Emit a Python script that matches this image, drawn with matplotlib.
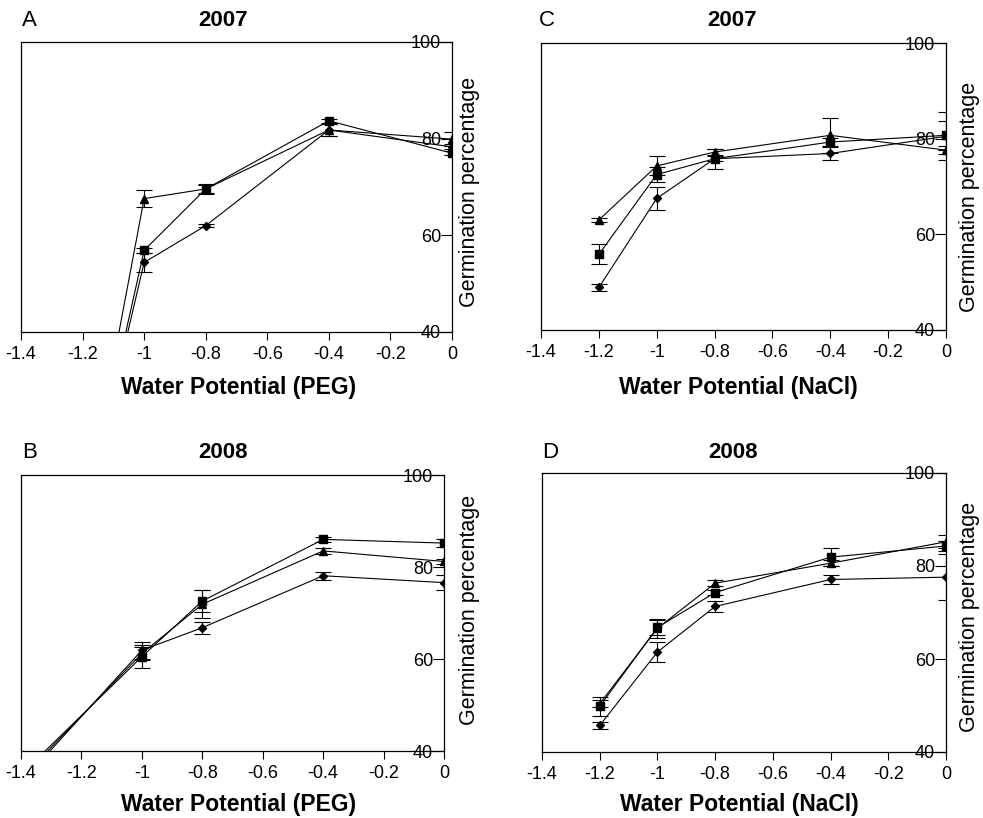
import matplotlib
matplotlib.use('Agg')
import matplotlib.pyplot as plt

plt.rcParams['font.family'] = ['Liberation Sans', 'DejaVu Sans']

# water potential levels (MPa)
wp_peg_2007 = [-1.2, -1.0, -0.8, -0.4, 0.0]
wp_peg_2008 = [-1.4, -1.0, -0.8, -0.4, 0.0]
wp_nacl = [-1.2, -1.0, -0.8, -0.4, 0.0]

# A: PEG 2007
a_tri = [0.0, 67.6, 69.6, 81.8, 79.9]
a_tri_err = [0.0, 1.7, 1.0, 1.2, 1.5]
a_sq = [0.0, 56.9, 69.6, 83.7, 77.0]
a_sq_err = [0.0, 0.5, 0.8, 0.4, 0.4]
a_dia = [0.0, 54.4, 62.0, 81.8, 78.3]
a_dia_err = [0.0, 1.9, 0.3, 1.2, 0.5]

# B: PEG 2008
b_tri = [34.0, 61.2, 71.9, 83.5, 81.2]
b_tri_err = [0.0, 1.5, 3.0, 0.7, 0.5]
b_sq = [34.9, 60.5, 72.6, 86.0, 85.2]
b_sq_err = [0.0, 2.5, 2.4, 0.6, 0.9]
b_dia = [33.1, 61.9, 66.8, 78.1, 76.6]
b_dia_err = [0.0, 1.8, 1.3, 0.9, 1.6]

# C: NaCl 2007
c_tri = [63.0, 74.3, 77.2, 80.7, 77.6]
c_tri_err = [0.5, 2.0, 0.7, 3.7, 0.8]
c_sq = [55.8, 72.5, 75.8, 79.3, 80.7]
c_sq_err = [2.1, 1.5, 2.1, 0.8, 3.0]
c_dia = [48.9, 67.5, 75.8, 76.9, 80.5]
c_dia_err = [0.8, 2.4, 0.5, 1.4, 5.0]

# D: NaCl 2008
d_tri = [50.4, 66.6, 76.3, 80.6, 85.2]
d_tri_err = [0.8, 2.0, 0.7, 0.6, 1.4]
d_sq = [49.8, 66.8, 74.3, 81.9, 84.3]
d_sq_err = [2.0, 1.6, 0.5, 1.9, 1.0]
d_dia = [45.7, 61.5, 71.3, 77.1, 77.6]
d_dia_err = [0.8, 2.1, 1.1, 0.9, 5.0]

x_ticks = [-1.4, -1.2, -1.0, -0.8, -0.6, -0.4, -0.2, 0.0]
x_tick_labels = ['-1.4', '-1.2', '-1', '-0.8', '-0.6', '-0.4', '-0.2', '0']
y_ticks = [40, 60, 80, 100]

W, H = 983, 818
fig = plt.figure(figsize=(W / 100, H / 100), dpi=100)


def box(x0, y0, x1, y1):
    # pixel box (top-left origin) -> figure fraction rect
    return [x0 / W, (H - y1) / H, (x1 - x0) / W, (y1 - y0) / H]


def ftext(x, y, s, **kw):
    fig.text(x / W, (H - y) / H, s, **kw)


def panel(rect, x, series, letter, year, xlabel, pos):
    ax = fig.add_axes(rect)
    for vals, errs, mk, ms in series:
        ax.errorbar(x, vals, yerr=errs, color='black', lw=0.8,
                    marker=mk, ms=ms, capsize=5.5, elinewidth=0.8,
                    capthick=0.8, clip_on=True)
    ax.set_xlim(-1.4, 0)
    ax.set_ylim(40, 100)
    ax.set_xticks(x_ticks)
    ax.set_xticklabels(x_tick_labels, fontsize=13)
    ax.set_yticks(y_ticks)
    ax.set_yticklabels([str(v) for v in y_ticks], fontsize=13)
    ax.tick_params(axis='x', direction='out', length=6, width=0.8, pad=4)
    ax.tick_params(axis='y', direction='in', length=8, width=0.8, pad=-8,
                   left=False, labelleft=False, right=True, labelright=True)
    for lab in ax.get_yticklabels():
        lab.set_horizontalalignment('right')
    for sp in ax.spines.values():
        sp.set_linewidth(0.9)
    lx, ty, xl, yl = pos
    ftext(lx[0], lx[1], letter, fontsize=16, ha='left', va='center')
    ftext(ty[0], ty[1], year, fontsize=16, fontweight='bold',
          ha='center', va='center')
    ftext(xl[0], xl[1], xlabel, fontsize=16.5, fontweight='bold',
          ha='center', va='center')
    ftext(yl[0], yl[1], 'Germination percentage', fontsize=15.5,
          rotation=90, ha='center', va='center')
    return ax


panel(box(21, 42, 452, 332), wp_peg_2007,
      [(a_dia, a_dia_err, 'D', 4), (a_sq, a_sq_err, 's', 5.5),
       (a_tri, a_tri_err, '^', 6)],
      'A', '2007', 'Water Potential (PEG)',
      ((22, 21), (223, 21), (239, 387), (470, 192)))

panel(box(541, 43, 946, 330), wp_nacl,
      [(c_dia, c_dia_err, 'D', 4), (c_sq, c_sq_err, 's', 5.5),
       (c_tri, c_tri_err, '^', 6)],
      'C', '2007', 'Water Potential (NaCl)',
      ((539, 21), (732, 21), (738, 387), (970, 197)))

panel(box(21, 475, 444, 751), wp_peg_2008,
      [(b_dia, b_dia_err, 'D', 4), (b_sq, b_sq_err, 's', 5.5),
       (b_tri, b_tri_err, '^', 6)],
      'B', '2008', 'Water Potential (PEG)',
      ((22, 452), (223, 452), (239, 805), (470, 610)))

panel(box(542, 473, 946, 752), wp_nacl,
      [(d_dia, d_dia_err, 'D', 4), (d_sq, d_sq_err, 's', 5.5),
       (d_tri, d_tri_err, '^', 6)],
      'D', '2008', 'Water Potential (NaCl)',
      ((542, 452), (733, 452), (739, 805), (970, 617)))

fig.savefig('out.png', dpi=100)
